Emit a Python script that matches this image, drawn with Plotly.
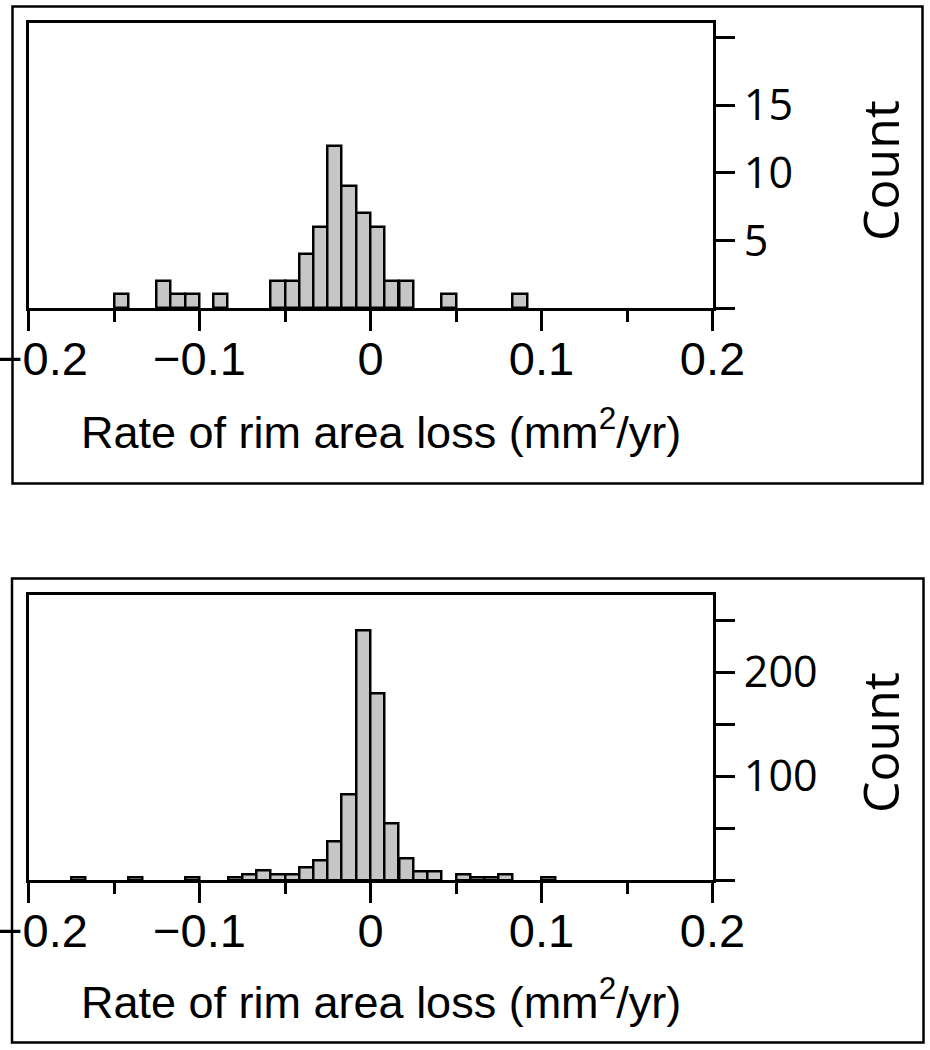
import plotly.graph_objects as go

# ---------------- data ----------------
bin_width = 0.00833  # mm^2/yr

top_bin_left = [-0.1500, -0.1250, -0.1167, -0.1083, -0.0917,
                -0.0583, -0.0500, -0.0417, -0.0333, -0.0250, -0.0167,
                -0.0083, 0.0000, 0.0083, 0.0167, 0.0417, 0.0833]
top_counts = [1, 2, 1, 1, 1,
              2, 2, 4, 6, 12, 9,
              7, 6, 2, 2, 1, 1]

bottom_bin_left = [-0.1750, -0.1417, -0.1083, -0.0833, -0.0750, -0.0667,
                   -0.0583, -0.0500, -0.0417, -0.0333, -0.0250, -0.0167,
                   -0.0083, 0.0000, 0.0083, 0.0167, 0.0250, 0.0333,
                   0.0500, 0.0583, 0.0667, 0.0750, 0.1000]
bottom_counts = [2, 2, 2, 2, 5, 9,
                 5, 5, 12, 19, 37, 82,
                 240, 180, 54, 21, 8, 8,
                 5, 2, 2, 5, 2]

x_major = [-0.2, -0.1, 0, 0.1, 0.2]
x_major_text = ["\u00a0\u00a0\u22120.2", "\u22120.1", "0", "0.1", "0.2"]
x_minor = [-0.15, -0.05, 0.05, 0.15]

top_y_labeled = [5, 10, 15]
top_y_text = ["5", "10", "15"]
top_y_unlabeled = [0, 20]
bottom_y_labeled = [100, 200]
bottom_y_text = ["100", "200"]
bottom_y_unlabeled = [0, 50, 150, 250]

x_title = "Rate of rim area loss (mm<sup>2</sup>/yr)"
y_title = "Count"

# ---------------- layout helpers ----------------
W, H = 930, 1050
def px_x(p):
    return p / W
def px_y(p):
    return 1 - p / H

LW = 2.5
bar_style = dict(color="#c6c6c6", line=dict(color="black", width=2.5))
x_font = dict(family="Liberation Sans, Arial, sans-serif", size=47, color="black")
y_font = dict(family="Open Sans, sans-serif", size=43, color="black")
title_font = dict(family="Liberation Sans, Arial, sans-serif", size=45, color="black")
count_font = dict(family="Open Sans, sans-serif", size=50, color="black")

fig = go.Figure()
fig.add_trace(go.Bar(x=top_bin_left, y=top_counts, width=bin_width, offset=0,
                     marker=bar_style, xaxis="x", yaxis="y", hoverinfo="x+y"))
fig.add_trace(go.Bar(x=bottom_bin_left, y=bottom_counts, width=bin_width, offset=0,
                     marker=bar_style, xaxis="x2", yaxis="y2", hoverinfo="x+y"))

def xaxis_cfg(anchor):
    return dict(
        domain=[px_x(28.5), px_x(712.5)], anchor=anchor, range=[-0.2, 0.2],
        tickmode="array", tickvals=x_major, ticktext=x_major_text,
        ticks="outside", ticklen=20, tickwidth=LW, tickcolor="black",
        minor=dict(tickmode="array", tickvals=x_minor, ticks="outside",
                   ticklen=11, tickwidth=LW, tickcolor="black", showgrid=False),
        showline=True, linewidth=LW, linecolor="black", mirror=True,
        showgrid=False, zeroline=False, tickfont=x_font, automargin=False,
        ticklabeloverflow="allow", ticklabelstandoff=-12,
        fixedrange=True,
    )

def yaxis_cfg(anchor, dom, rng, vals, text, minor_vals):
    return dict(
        domain=dom, anchor=anchor, side="right", range=rng,
        tickmode="array", tickvals=vals, ticktext=text,
        ticks="outside", ticklen=20, tickwidth=LW, tickcolor="black",
        minor=dict(tickmode="array", tickvals=minor_vals, ticks="outside",
                   ticklen=20, tickwidth=LW, tickcolor="black", showgrid=False),
        showline=True, linewidth=LW, linecolor="black", mirror=True,
        showgrid=False, zeroline=False, tickfont=y_font, automargin=False,
        ticklabeloverflow="allow",
        fixedrange=True,
    )

fig.update_layout(
    width=W, height=H, template="none",
    margin=dict(l=0, r=0, t=0, b=0, pad=0),
    paper_bgcolor="white", plot_bgcolor="white",
    showlegend=False, bargap=0,
    xaxis=xaxis_cfg("y"),
    yaxis=yaxis_cfg("x", [px_y(308), px_y(23)], [0, 21.1],
                    top_y_labeled, top_y_text, top_y_unlabeled),
    xaxis2=xaxis_cfg("y2"),
    yaxis2=yaxis_cfg("x2", [px_y(880), px_y(594.5)], [0, 275],
                     bottom_y_labeled, bottom_y_text, bottom_y_unlabeled),
)

# outer frames
for (x0, y0, x1, y1) in [(12.5, 6.5, 922.5, 483.5), (12, 578.5, 923.5, 1042.5)]:
    fig.add_shape(type="rect", xref="paper", yref="paper",
                  x0=px_x(x0), x1=px_x(x1), y0=px_y(y1), y1=px_y(y0),
                  line=dict(color="black", width=LW), fillcolor="rgba(0,0,0,0)",
                  layer="above")

# axis titles
for (ty, cy) in [(429, 171), (999, 743)]:
    fig.add_annotation(text=x_title, xref="paper", yref="paper",
                       x=px_x(381), y=px_y(ty), xanchor="center", yanchor="middle",
                       showarrow=False, font=title_font)
    fig.add_annotation(text=y_title, xref="paper", yref="paper",
                       x=px_x(880), y=px_y(cy), xanchor="center", yanchor="middle",
                       textangle=-90, showarrow=False, font=count_font)

fig.write_html("out.html", config={"displayModeBar": False},
               post_script="document.body.style.margin='0';document.body.style.padding='0';")
